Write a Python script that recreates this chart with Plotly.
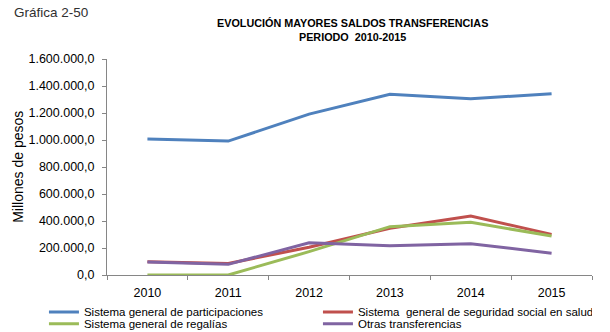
import plotly.graph_objects as go

# Series: balances by year, in millions of pesos
years = ["2010", "2011", "2012", "2013", "2014", "2015"]
participaciones = [1007000, 992000, 1192000, 1338000, 1306000, 1343000]
seguridad_social = [99000, 86000, 205000, 346000, 437000, 301000]
regalias = [0, 0, 173000, 358000, 390000, 289000]
otras = [96000, 79000, 239000, 217000, 232000, 161000]

series_names = [
    "Sistema general de participaciones",
    "Sistema  general de seguridad social en salud",
    "Sistema general de regalías",
    "Otras transferencias",
]
series_values = [participaciones, seguridad_social, regalias, otras]
colors = ["#4F81BD", "#C0504D", "#9BBB59", "#8064A2"]
# two legend rows, two entries each
legend_rows = ["legend", "legend", "legend2", "legend2"]

FONT = "Liberation Sans, Arial, sans-serif"

fig = go.Figure()
for name, vals, col, lg in zip(series_names, series_values, colors, legend_rows):
    fig.add_trace(go.Scatter(
        x=years, y=vals, name=name, mode="lines",
        line=dict(color=col, width=3), legend=lg,
    ))

legend_common = dict(
    orientation="h",
    xanchor="left", yanchor="top",
    font=dict(family=FONT, size=11.5, color="#000000"),
    entrywidth=229, entrywidthmode="pixels",
    itemwidth=30,
    bgcolor="rgba(0,0,0,0)",
)

fig.update_layout(
    width=610, height=332,
    margin=dict(l=107, r=18, t=59, b=57, autoexpand=False),
    paper_bgcolor="white", plot_bgcolor="white",
    separators=",.",
    font=dict(family=FONT, size=12, color="#000000"),
    showlegend=True,
    legend=dict(x=-0.130, y=-0.104, **legend_common),
    legend2=dict(x=-0.130, y=-0.159, **legend_common),
    xaxis=dict(
        type="category",
        showgrid=False, zeroline=False,
        showline=True, linecolor="#868686", linewidth=1,
        ticks="outside", tickson="boundaries", ticklen=4, tickcolor="#868686",
        ticklabelstandoff=6,
        tickfont=dict(family=FONT, size=12.5, color="#000000"),
        range=[-0.5, 5.5],
    ),
    yaxis=dict(
        range=[0, 1600000], dtick=200000, tickformat=",.1f",
        showgrid=False, zeroline=False,
        showline=True, linecolor="#868686", linewidth=1,
        ticks="outside", ticklen=4, tickcolor="#868686",
        ticklabelstandoff=5,
        tickfont=dict(family=FONT, size=12.5, color="#000000"),
    ),
)

fig.add_annotation(
    text="Gráfica 2-50", xref="paper", yref="paper",
    x=(12 - 107) / 484, y=(275 - 13) / 216, xanchor="left", yanchor="middle",
    showarrow=False, font=dict(family=FONT, size=13.5, color="#303030"),
)
fig.add_annotation(
    text="<b>EVOLUCIÓN MAYORES SALDOS TRANSFERENCIAS</b><br><b>PERIODO  2010-2015</b>",
    xref="paper", yref="paper",
    x=(352 - 107) / 484, y=(275 - 30) / 216, xanchor="center", yanchor="middle",
    showarrow=False, align="center",
    font=dict(family=FONT, size=10.8, color="#000000"),
)
fig.add_annotation(
    text="Millones de pesos", xref="paper", yref="paper",
    x=(18 - 107) / 484, y=0.5, xanchor="center", yanchor="middle",
    textangle=-90, showarrow=False, font=dict(family=FONT, size=14, color="#000000"),
)

fig.write_html("out.html")
